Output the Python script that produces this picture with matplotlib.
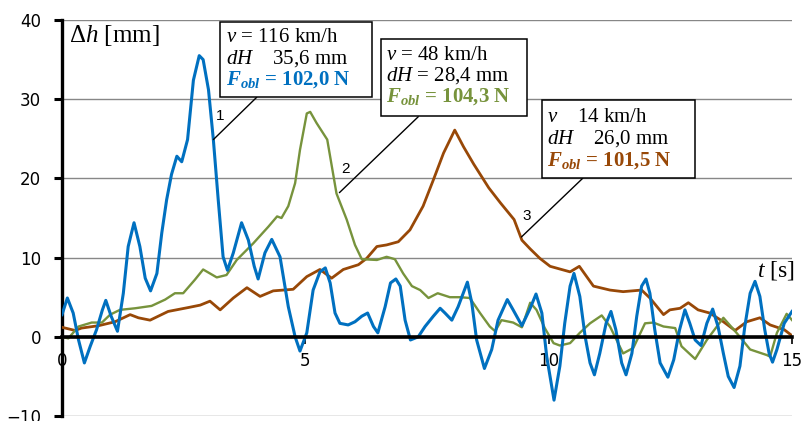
import matplotlib
matplotlib.use("Agg")
import matplotlib.pyplot as plt
from matplotlib.patches import Rectangle

# ---------------- data ----------------
t_blue = [0.00, 0.11, 0.23, 0.34, 0.46, 0.58, 0.71, 0.83, 0.90, 1.01, 1.14, 1.26, 1.36, 1.48, 1.60,
          1.71, 1.82, 1.95, 2.05, 2.15, 2.25, 2.36, 2.46, 2.58, 2.70, 2.82, 2.90, 3.01, 3.11, 3.21,
          3.31, 3.40, 3.52, 3.69, 3.83, 3.95, 4.03, 4.17, 4.31, 4.48, 4.65, 4.79, 4.89, 5.03, 5.16,
          5.30, 5.41, 5.51, 5.61, 5.71, 5.88, 6.02, 6.16, 6.28, 6.40, 6.49, 6.64, 6.75, 6.86, 6.95,
          7.05, 7.16, 7.32, 7.46, 7.63, 7.77, 7.87, 8.01, 8.14, 8.33, 8.42, 8.52, 8.68, 8.83, 8.96,
          9.15, 9.27, 9.45, 9.62, 9.74, 9.86, 9.96, 10.11, 10.23, 10.33, 10.44, 10.52, 10.64, 10.75,
          10.85, 10.94, 11.05, 11.18, 11.28, 11.38, 11.50, 11.59, 11.71, 11.81, 11.91, 12.00, 12.08,
          12.18, 12.29, 12.45, 12.57, 12.69, 12.80, 12.90, 13.01, 13.13, 13.25, 13.37, 13.48, 13.59,
          13.69, 13.81, 13.93, 14.03, 14.14, 14.24, 14.34, 14.44, 14.53, 14.60, 14.69, 14.84, 15.00]
h_blue = [2.8, 4.9, 3.0, -0.4, -3.3, -1.2, 0.9, 3.4, 4.6, 2.6, 0.7, 5.5, 11.4, 14.4, 11.4,
          7.4, 5.8, 8.0, 13.1, 17.3, 20.5, 22.8, 22.1, 24.9, 32.4, 35.5, 35.0, 31.2, 24.9, 17.3,
          10.1, 8.4, 10.6, 14.4, 12.2, 8.9, 7.3, 10.6, 12.3, 10.1, 3.8, 0.0, -1.8, 0.5, 5.9,
          8.2, 8.7, 6.8, 3.0, 1.7, 1.5, 1.9, 2.6, 3.0, 1.3, 0.5, 3.8, 6.8, 7.3, 6.4,
          2.1, -0.4, 0.0, 1.3, 2.6, 3.6, 3.0, 2.1, 3.8, 6.9, 4.3, -0.4, -4.0, -1.6, 2.1,
          4.7, 3.4, 1.4, 3.6, 5.4, 3.0, -2.5, -8.0, -3.7, 1.7, 6.4, 8.0, 5.1, 0.0,
          -3.3, -4.8, -2.1, 1.7, 3.2, 0.9, -3.3, -4.8, -2.1, 2.6, 6.4, 7.3, 5.5,
          0.9, -3.3, -5.1, -2.9, 0.9, 3.4, 1.7, -0.4, -1.1, 1.7, 3.5, 1.3, -2.1,
          -5.0, -6.4, -3.7, 1.3, 5.5, 7.0, 5.1, 0.9, -2.1, -3.2, -1.6, 1.7, 3.2]

t_green = [0.00, 0.13, 0.34, 0.61, 0.82, 0.99, 1.19, 1.50, 1.84, 2.12, 2.32, 2.49, 2.73, 2.90, 3.18,
           3.38, 3.59, 3.93, 4.24, 4.42, 4.51, 4.65, 4.79, 4.89, 5.03, 5.10, 5.23, 5.45, 5.64, 5.85,
           6.02, 6.16, 6.47, 6.67, 6.84, 7.01, 7.19, 7.36, 7.53, 7.72, 7.97, 8.18, 8.38, 8.59, 8.79,
           8.90, 9.03, 9.27, 9.45, 9.62, 9.75, 9.92, 10.10, 10.23, 10.44, 10.64, 10.85, 11.09, 11.26,
           11.53, 11.74, 11.98, 12.15, 12.36, 12.60, 12.73, 13.01, 13.25, 13.59, 13.86, 14.14, 14.48,
           14.55, 14.69, 14.89, 15.03]
h_green = [0.0, -0.2, 1.3, 1.8, 1.8, 2.8, 3.4, 3.6, 3.9, 4.7, 5.5, 5.5, 7.2, 8.5, 7.5,
           7.8, 9.7, 11.8, 13.9, 15.2, 15.0, 16.5, 19.4, 23.6, 28.2, 28.4, 27.0, 24.9, 18.1, 14.8,
           11.6, 9.8, 9.7, 10.1, 9.8, 8.0, 6.4, 5.9, 4.9, 5.5, 5.0, 5.0, 4.9, 3.0, 1.3,
           0.7, 2.1, 1.8, 1.2, 4.3, 3.4, 1.1, -0.8, -1.1, -0.8, 0.5, 1.7, 2.7, 1.3,
           -2.1, -1.4, 1.7, 1.8, 1.3, 1.1, -1.2, -2.8, -0.4, 2.4, 0.5, -1.6, -2.3,
           -2.5, 0.5, 2.9, 1.9]

t_brown = [0.00, 0.27, 0.40, 0.75, 1.09, 1.40, 1.57, 1.81, 2.18, 2.60, 2.84, 3.04, 3.25, 3.52, 3.80,
           4.07, 4.34, 4.75, 5.03, 5.30, 5.54, 5.78, 6.09, 6.26, 6.47, 6.67, 6.91, 7.15, 7.42, 7.63,
           7.84, 8.07, 8.25, 8.46, 8.77, 9.01, 9.29, 9.45, 9.62, 9.82, 10.03, 10.44, 10.63, 10.92,
           11.26, 11.53, 11.91, 12.08, 12.36, 12.49, 12.70, 12.87, 13.07, 13.31, 13.59, 13.83, 14.07,
           14.34, 14.55, 14.84, 15.03]
h_brown = [1.2, 0.8, 1.1, 1.4, 1.9, 2.8, 2.4, 2.1, 3.2, 3.7, 4.0, 4.5, 3.4, 4.9, 6.2,
           5.1, 5.8, 6.0, 7.6, 8.5, 7.4, 8.5, 9.1, 9.9, 11.4, 11.6, 12.0, 13.5, 16.5, 19.8,
           23.2, 26.1, 24.0, 21.8, 18.8, 16.9, 14.8, 12.2, 11.1, 9.9, 8.9, 8.2, 8.9, 6.4,
           5.9, 5.7, 5.9, 4.9, 2.8, 3.4, 3.6, 4.3, 3.4, 3.0, 1.9, 0.8, 1.9,
           2.4, 1.5, 0.9, 0.0]

x_ticks = [0, 5, 10, 15]
y_ticks = [-10, 0, 10, 20, 30, 40]

box_lines = [
    ["$v$ = 116 km/h", "$dH$    35,6 mm", r"$\mathbfit{F}_{\mathbfit{obl}}$ = 102,0 N"],
    ["$v$ = 48 km/h", "$dH$ = 28,4 mm", r"$\mathbfit{F}_{\mathbfit{obl}}$ = 104,3 N"],
    ["$v$    14 km/h", "$dH$    26,0 mm", r"$\mathbfit{F}_{\mathbfit{obl}}$ = 101,5 N"],
]
curve_labels = ["1", "2", "3"]
# points on curves where leader lines end (data coords)
leader_pts = [(3.11, 24.9), (5.70, 18.2), (9.44, 12.6)]

C_BLUE = "#0070C0"
C_GREEN = "#77933C"
C_BROWN = "#984807"
colors = [C_BLUE, C_GREEN, C_BROWN]

# ---------------- style ----------------
plt.rcParams["mathtext.fontset"] = "custom"
plt.rcParams["mathtext.rm"] = "Liberation Serif"
plt.rcParams["mathtext.it"] = "Liberation Serif:italic"
plt.rcParams["mathtext.bf"] = "Liberation Serif:bold"
plt.rcParams["mathtext.bfit"] = "Liberation Serif:italic:bold"

W, H = 805, 421
fig = plt.figure(figsize=(W / 100, H / 100), dpi=100)
fig.patch.set_facecolor("white")

def fpos(px, py):
    return px / W, 1 - py / H

x0, x1 = 62, 792
y_top, y_bot = 20, 416
ax = fig.add_axes([x0 / W, 1 - y_bot / H, (x1 - x0) / W, (y_bot - y_top) / H])
ax.set_xlim(0, 15)
ax.set_ylim(-10, 40)
ax.set_facecolor("none")

for s in ["top", "right"]:
    ax.spines[s].set_visible(False)
ax.spines["left"].set_linewidth(2.4)
ax.spines["bottom"].set_position(("data", 0))
ax.spines["bottom"].set_linewidth(2.6)
ax.spines["bottom"].set_zorder(4)

ax.set_yticks(y_ticks)
ax.set_xticks(x_ticks)
ax.set_xticklabels([str(v) for v in x_ticks])
ax.tick_params(axis="y", direction="out", length=6, width=2.2, pad=9, labelsize=12)
ax.tick_params(axis="x", direction="out", length=5, width=1.2, pad=6, labelsize=12)

ax.grid(axis="y", color="#878787", linewidth=1.0)
ax.set_axisbelow(True)

ax.plot(t_brown, h_brown, color=C_BROWN, lw=2.0, zorder=3, solid_joinstyle="round")
ax.plot(t_green, h_green, color=C_GREEN, lw=1.7, zorder=3, solid_joinstyle="round")
ax.plot(t_blue, h_blue, color=C_BLUE, lw=2.2, zorder=3, solid_joinstyle="round")

# axis titles
fig.text(*fpos(69, 36), r"Δ$h$ [mm]", fontsize=18, family="Liberation Serif", va="center", ha="left")
fig.text(*fpos(795, 271), r"$t$ [s]", fontsize=17, family="Liberation Serif", va="center", ha="right")

# annotation boxes (pixel layout)
boxes = [(220, 22, 372, 97), (381, 39, 527, 116), (542, 100, 695, 178)]
text_x = [226, 386, 547]
text_y = [[37, 59, 80], [55, 76, 97], [117, 139, 161]]
leader_start = [(256.7, 97.3), (418.3, 116.7), (582.7, 178.3)]
label_pos = [(220, 116), (345, 169), (527, 216)]

for i in range(3):
    bx0, by0, bx1, by1 = boxes[i]
    fx0, fy1 = fpos(bx0, by0)
    fx1, fy0 = fpos(bx1, by1)
    rect = Rectangle((fx0, fy0), fx1 - fx0, fy1 - fy0, transform=fig.transFigure,
                     facecolor="white", edgecolor="black", lw=1.1, zorder=5)
    fig.add_artist(rect)
    for j, line in enumerate(box_lines[i]):
        kw = dict(fontsize=15, family="Liberation Serif", va="center", ha="left", zorder=6)
        if j == 2:
            kw.update(color=colors[i], fontweight="bold")
        fig.text(*fpos(text_x[i], text_y[i][j]), line, **kw)
    ax.annotate("", xy=leader_pts[i], xycoords="data",
                xytext=fpos(*leader_start[i]), textcoords="figure fraction",
                arrowprops=dict(arrowstyle="-", color="black", lw=1.0, shrinkA=0, shrinkB=0),
                zorder=4)
    fig.text(*fpos(*label_pos[i]), curve_labels[i], fontsize=11, family="Liberation Sans",
             va="center", ha="center")

fig.savefig("out.png", dpi=100)
